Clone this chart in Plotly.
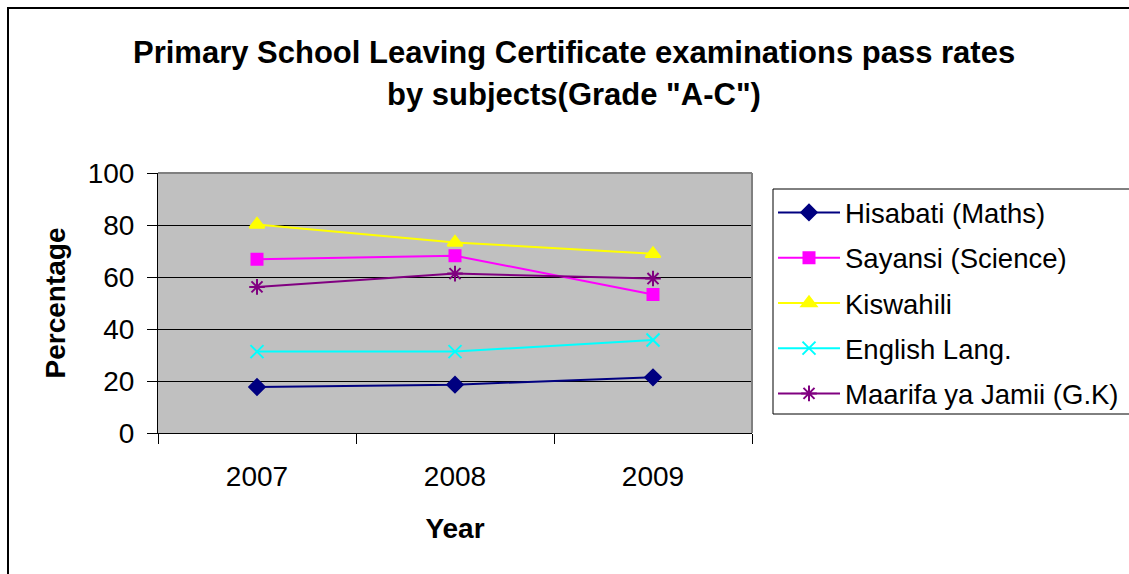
import plotly.graph_objects as go

years = ["2007", "2008", "2009"]
series_names = ["Hisabati (Maths)", "Sayansi (Science)", "Kiswahili", "English Lang.", "Maarifa ya Jamii (G.K)"]
maths = [17.7, 18.6, 21.4]
science = [66.8, 68.2, 53.3]
kiswahili = [80.2, 73.3, 68.9]
english = [31.3, 31.3, 35.8]
gk = [56.2, 61.3, 59.4]

values = [maths, science, kiswahili, english, gk]
colors = ["#000080", "#FF00FF", "#FFFF00", "#00FFFF", "#800080"]
symbols = ["diamond", "square", "triangle-up", "x-thin-open", "asterisk-open"]
sizes = [12, 11, 13, 13, 13]

FONT = "Liberation Sans, Arial, sans-serif"

fig = go.Figure()
for i, (name, vals) in enumerate(zip(series_names, values)):
    fig.add_trace(go.Scatter(
        x=years, y=vals, name=name, mode="lines+markers",
        legendgroup=f"g{i}",
        line=dict(color=colors[i], width=2),
        marker=dict(symbol=symbols[i], size=sizes[i], color=colors[i],
                    line=dict(color=colors[i], width=2)),
    ))

W, H = 1129, 574
L, R = 158, W - 752
T, B = 173, H - 433
pw = W - L - R
ph = H - T - B

def px(x):
    return (x - L) / pw

def py(y):
    return (H - B - y) / ph

fig.update_layout(
    width=W, height=H,
    margin=dict(l=L, r=R, t=T, b=B, pad=0, autoexpand=False),
    paper_bgcolor="white", plot_bgcolor="#C0C0C0",
    font=dict(family=FONT, size=28, color="black"),
    showlegend=True,
    legend=dict(
        x=px(773), y=py(188), xanchor="left", yanchor="top",
        bgcolor="rgba(0,0,0,0)", borderwidth=0,
        font=dict(family=FONT, size=27.5, color="black"),
        tracegroupgap=6.5, itemwidth=62,
    ),
    xaxis=dict(
        type="category", range=[-0.5, 2.5], tickson="boundaries",
        ticks="outside", ticklen=10, tickcolor="black", tickwidth=1,
        showline=True, linecolor="black", linewidth=1,
        showgrid=False, zeroline=False,
        tickfont=dict(size=28), ticklabelstandoff=18,
        title=dict(text="<b>Year</b>", font=dict(size=28), standoff=27),
    ),
    yaxis=dict(
        range=[0, 100], dtick=20, tick0=0,
        ticks="outside", ticklen=10, tickcolor="black", tickwidth=1,
        showline=True, linecolor="black", linewidth=1,
        showgrid=True, gridcolor="black", gridwidth=1, zeroline=False,
        tickfont=dict(size=28), ticklabelstandoff=7,
        title=dict(text="<b>Percentage</b>", font=dict(size=28), standoff=13),
    ),
    annotations=[
        dict(text="<b>Primary School Leaving Certificate examinations pass rates</b>",
             xref="paper", yref="paper", x=px(574), y=py(52), xanchor="center", yanchor="middle",
             showarrow=False, font=dict(size=31)),
        dict(text="<b>by subjects(Grade \"A-C\")</b>",
             xref="paper", yref="paper", x=px(574), y=py(95), xanchor="center", yanchor="middle",
             showarrow=False, font=dict(size=31)),
    ],
    shapes=[
        # outer chart frame (runs off the right and bottom of the picture)
        dict(type="rect", xref="paper", yref="paper", x0=px(8), x1=px(1200), y0=py(8), y1=py(650),
             line=dict(color="black", width=2), fillcolor="rgba(0,0,0,0)", layer="below"),
        # legend frame (runs off the right edge)
        dict(type="rect", xref="paper", yref="paper", x0=px(773), x1=px(1200), y0=py(189), y1=py(414),
             line=dict(color="black", width=1), fillcolor="white", layer="below"),
        dict(type="line", xref="paper", yref="paper", x0=0, x1=1, y0=1, y1=1,
             line=dict(color="#808080", width=2), layer="above"),
        dict(type="line", xref="paper", yref="paper", x0=1, x1=1, y0=0, y1=1,
             line=dict(color="#808080", width=2), layer="above"),
    ],
)

fig.write_html("out.html", config={"displayModeBar": False},
               post_script="document.body.style.margin='0';")
